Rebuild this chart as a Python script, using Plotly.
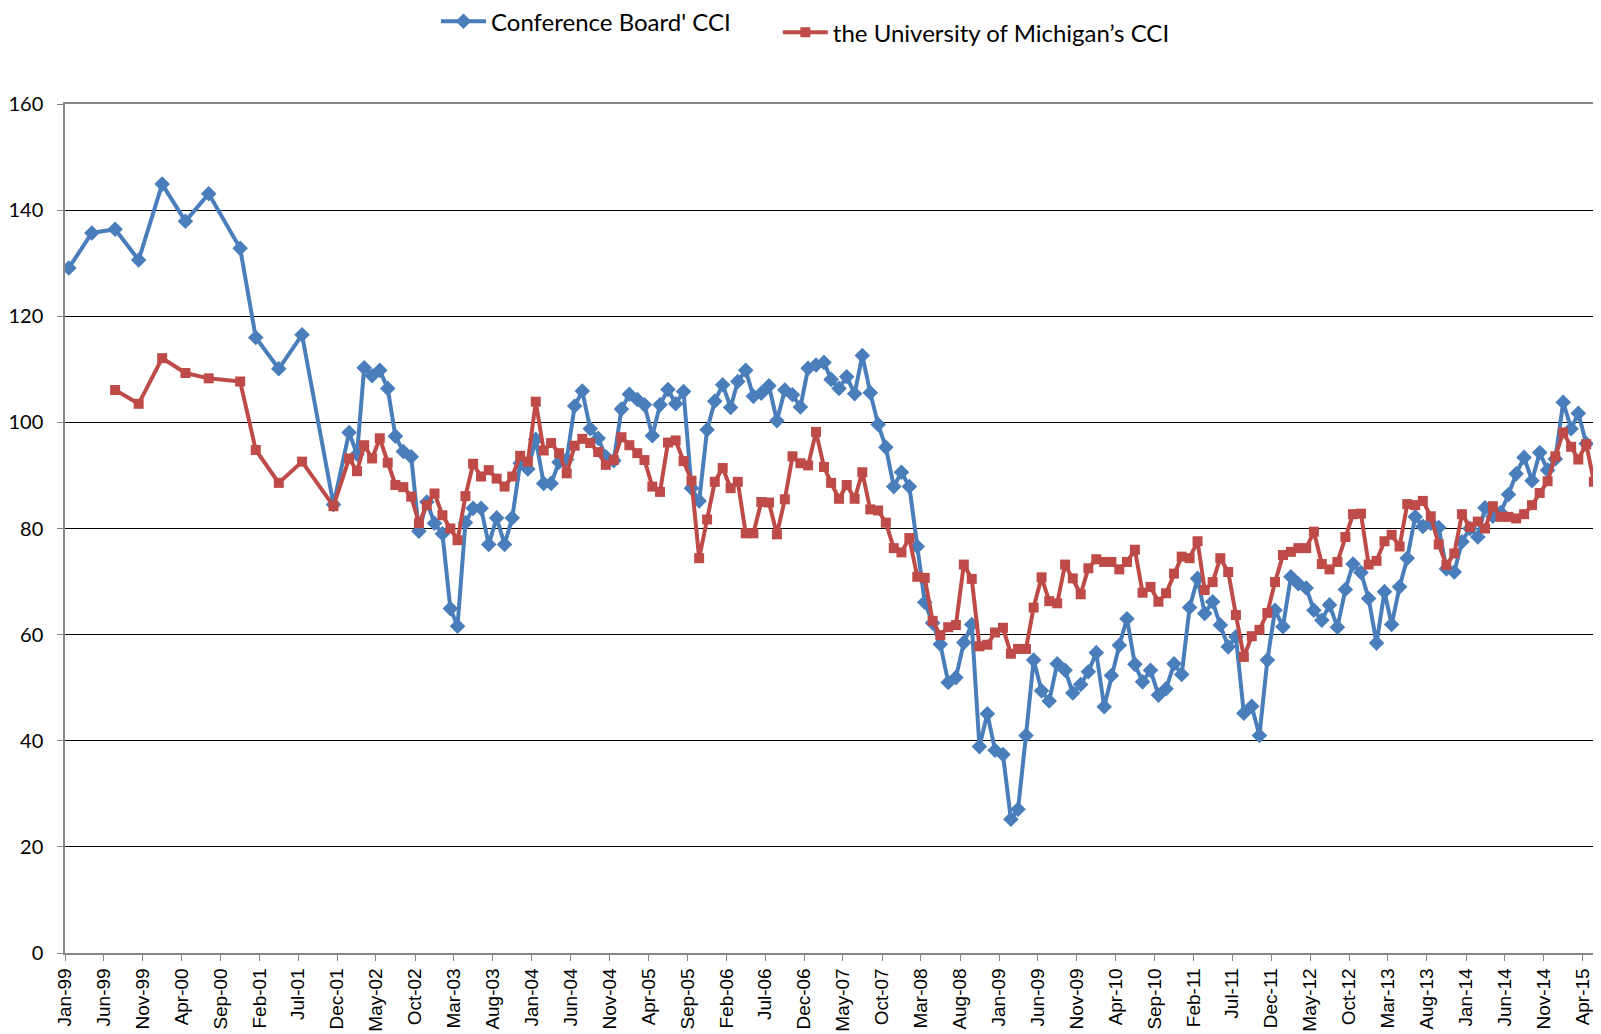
import pandas as pd
import plotly.graph_objects as go

# ---- data ----
early_months = ["1999-01", "1999-04", "1999-07", "1999-10", "2000-01", "2000-04",
                "2000-07", "2000-11", "2001-01", "2001-04", "2001-07", "2001-11"]
monthly_start = "2002-01"
monthly_end = "2015-05"

cb_early = [129.1, 135.7, 136.4, 130.6, 144.9, 137.9, 143.1, 132.8, 116.0, 110.1, 116.5, 84.5]
um_early = [None, None, 106.1, 103.5, 112.1, 109.3, 108.3, 107.7, 94.8, 88.6, 92.6, 84.2]

cb_monthly = [
    98.1, 94.0, 110.3, 108.8, 109.8, 106.4, 97.4, 94.5, 93.5, 79.5, 85.0, 81.0,      # 2002
    79.0, 64.9, 61.6, 81.1, 83.8, 83.8, 77.0, 82.0, 77.0, 82.0, 92.3, 91.2,          # 2003
    96.8, 88.5, 88.5, 92.5, 93.0, 103.1, 105.9, 98.8, 97.0, 93.5, 92.8, 102.5,       # 2004
    105.3, 104.3, 103.3, 97.5, 103.3, 106.2, 103.5, 105.8, 87.6, 85.2, 98.6, 104.0,  # 2005
    107.1, 102.8, 107.7, 109.8, 104.9, 105.5, 106.9, 100.3, 106.1, 105.2, 102.9, 110.2,  # 2006
    110.8, 111.3, 108.1, 106.4, 108.6, 105.4, 112.6, 105.6, 99.6, 95.3, 87.9, 90.6,  # 2007
    87.9, 76.6, 66.1, 62.2, 58.2, 51.0, 51.9, 58.5, 61.9, 38.9, 45.1, 38.2,          # 2008
    37.4, 25.2, 27.1, 41.0, 55.2, 49.4, 47.5, 54.5, 53.3, 49.0, 50.6, 53.0,          # 2009
    56.6, 46.4, 52.3, 58.0, 63.0, 54.4, 51.1, 53.3, 48.6, 49.8, 54.5, 52.5,          # 2010
    65.1, 70.6, 64.0, 66.2, 61.8, 57.7, 59.6, 45.2, 46.5, 41.0, 55.2, 64.6,          # 2011
    61.5, 70.9, 69.6, 68.8, 64.6, 62.7, 65.6, 61.4, 68.5, 73.3, 71.7, 66.8,          # 2012
    58.4, 68.1, 61.9, 69.0, 74.4, 82.2, 80.4, 81.0, 80.2, 72.4, 71.8, 77.5,          # 2013
    80.0, 78.4, 83.9, 82.3, 83.0, 86.4, 90.3, 93.4, 89.0, 94.3, 91.0, 93.1,          # 2014
    103.8, 98.8, 101.7, 96.0, None,                                                  # 2015
]

um_monthly = [
    93.2, 90.8, 95.7, 93.2, 97.0, 92.4, 88.2, 87.8, 86.0, 81.0, 84.4, 86.6,          # 2002
    82.5, 80.0, 77.8, 86.1, 92.2, 89.8, 91.0, 89.4, 87.9, 89.8, 93.7, 92.6,          # 2003
    103.9, 94.7, 96.1, 94.2, 90.4, 95.6, 96.9, 96.1, 94.4, 92.0, 92.9, 97.2,         # 2004
    95.7, 94.2, 92.9, 87.9, 86.9, 96.2, 96.6, 92.7, 89.0, 74.4, 81.7, 88.8,          # 2005
    91.4, 87.6, 88.8, 79.1, 79.1, 85.0, 84.9, 78.9, 85.5, 93.6, 92.3, 91.9,          # 2006
    98.2, 91.6, 88.6, 85.6, 88.2, 85.6, 90.6, 83.6, 83.4, 81.1, 76.3, 75.5,          # 2007
    78.2, 70.9, 70.7, 62.6, 59.9, 61.4, 61.8, 73.2, 70.5, 57.8, 58.1, 60.4,          # 2008
    61.3, 56.4, 57.3, 57.3, 65.1, 70.8, 66.3, 65.9, 73.2, 70.6, 67.6, 72.5,          # 2009
    74.2, 73.7, 73.7, 72.3, 73.7, 76.0, 67.9, 69.0, 66.2, 67.8, 71.5, 74.7,          # 2010
    74.4, 77.6, 68.4, 69.9, 74.4, 71.8, 63.7, 55.8, 59.7, 60.9, 64.1, 69.9,          # 2011
    75.0, 75.6, 76.3, 76.3, 79.4, 73.3, 72.3, 73.7, 78.4, 82.7, 82.8, 73.2,          # 2012
    73.9, 77.6, 78.8, 76.6, 84.6, 84.4, 85.2, 82.3, 77.0, 73.1, 75.3, 82.7,          # 2013
    80.3, 81.3, 80.0, 84.2, 82.2, 82.2, 81.9, 82.7, 84.4, 86.7, 88.9, 93.6,          # 2014
    98.1, 95.4, 93.0, 95.9, 88.8,                                                    # 2015
]

series_names = ["Conference Board' CCI", "the University of Michigan\u2019s CCI"]
y_ticks = [0, 20, 40, 60, 80, 100, 120, 140, 160]
tick_start = "1999-01-01"
tick_end = "2015-04-01"
axis_start = "1999-01-01"
axis_end = "2015-06-01"

# ---- build ----
months = early_months + [d.strftime("%Y-%m") for d in
                         pd.date_range(monthly_start + "-01", monthly_end + "-01", freq="MS")]
x_vals = pd.to_datetime([m + "-01" for m in months]) + pd.Timedelta(days=15)
cb = cb_early + cb_monthly
um = um_early + um_monthly

blue = "#4A7EBB"
red = "#BE4B48"

fig = go.Figure()
fig.add_trace(go.Scatter(
    x=x_vals, y=cb, name=series_names[0], mode="lines+markers",
    line=dict(color=blue, width=4),
    marker=dict(symbol="diamond", size=12, color=blue),
    legend="legend",
))
fig.add_trace(go.Scatter(
    x=x_vals, y=um, name=series_names[1], mode="lines+markers",
    line=dict(color=red, width=4),
    marker=dict(symbol="square", size=10, color=red),
    legend="legend2",
))

tickvals = pd.date_range(tick_start, tick_end, freq="5MS")

legend_font = dict(family="Lato", size=24, color="#000000")

# the page body has an 8px default margin, so the figure is 8px smaller
fig.update_layout(
    width=1593, height=1026,
    margin=dict(l=57, r=3, t=96, b=81, autoexpand=False),
    paper_bgcolor="white", plot_bgcolor="white",
    showlegend=True,
    legend=dict(orientation="h", x=0.242, xanchor="left", y=1.097, yanchor="middle",
                font=legend_font, itemwidth=45, bgcolor="rgba(0,0,0,0)"),
    legend2=dict(orientation="h", x=0.465, xanchor="left", y=1.084, yanchor="middle",
                 font=legend_font, itemwidth=45, bgcolor="rgba(0,0,0,0)"),
    xaxis=dict(
        type="date", range=[axis_start, axis_end],
        tickmode="array", tickvals=tickvals, tickformat="%b-%y",
        tickangle=-90, ticks="outside", ticklen=6, tickcolor="#868686",
        tickfont=dict(family="Liberation Sans", size=19, color="#000000"),
        showgrid=False, showline=True, linecolor="#868686", linewidth=1.5, mirror=True,
        zeroline=False, automargin=False,
    ),
    yaxis=dict(
        range=[0, 160], tickmode="array", tickvals=y_ticks,
        ticks="outside", ticklen=6, tickcolor="#868686",
        tickfont=dict(family="Lato", size=20, color="#000000"),
        ticklabelstandoff=10,
        showgrid=True, gridcolor="#000000", gridwidth=1,
        showline=True, linecolor="#868686", linewidth=1.5, mirror=True,
        zeroline=False, automargin=False,
    ),
)

fig.write_html("out.html")
